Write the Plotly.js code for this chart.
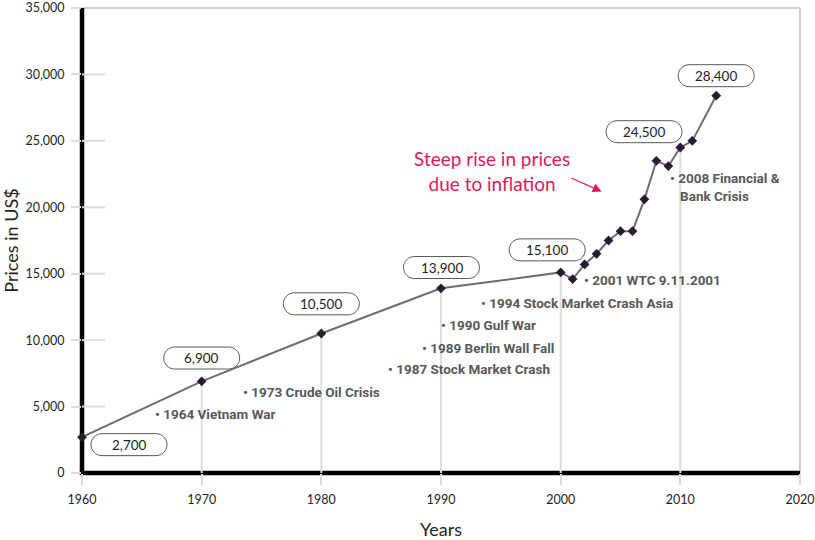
<!DOCTYPE html>
<html><head><meta charset="utf-8">
<script src="https://cdn.plot.ly/plotly-3.0.1.min.js"></script>
<style>body{margin:0;padding:0;background:#fff}#chart{width:815px;height:540px}</style>
</head><body><div id="chart"></div>
<script>
// ---- data ----
const years  = [1960, 1970, 1980, 1990, 2000, 2001, 2002, 2003, 2004, 2005, 2006, 2007, 2008, 2009, 2010, 2011, 2013];
const prices = [2700, 6900, 10500, 13900, 15100, 14600, 15700, 16500, 17500, 18200, 18200, 20600, 23500, 23100, 24500, 25000, 28400];
const labelYears = [1960, 1970, 1980, 1990, 2000, 2010, 2013];
const dropYears  = [1970, 1980, 1990, 2000, 2010];
const xTickVals = [1960, 1970, 1980, 1990, 2000, 2010, 2020];
const yTickVals = [0, 5000, 10000, 15000, 20000, 25000, 30000, 35000];
const eventLabels = ["1964 Vietnam War", "1973 Crude Oil Crisis", "1987 Stock Market Crash",
  "1989 Berlin Wall Fall", "1990 Gulf War", "1994 Stock Market Crash Asia",
  "2001 WTC 9.11.2001", "2008 Financial &<br>\u00a0\u00a0\u00a0Bank Crisis"];
const noteText = "Steep rise in prices<br>due to inflation";
const xTitle = "Years";
const yTitle = "Prices in US$";

// ---- styling / placement ----
const fmt = v => v.toLocaleString('en-US');
const FONT = 'Lato, "Open Sans", sans-serif';
const BOLD = 'Roboto, "Liberation Sans", sans-serif';
const boxOffsets = {1960:[47,-7.5],1970:[0,23.3],1980:[0,29.7],1990:[0.5,20.8],2000:[-13.5,22.5],2010:[-36.3,15.8],2013:[0,20]};
const eventPos = [[1965.93,4431],[1973.28,6084],[1985.44,7811],[1988.22,9411],[1989.83,11116],
  [1993.17,12791],[2001.82,14496],[2008.97,21497]];
const notePos = [1994.26, 22700];
const arrowHead = [2003.43, 21180];

function pill(cx, cy, hw, r){
  const k = 0.5523*r;
  return `M${cx-hw+r},${cy+r} L${cx+hw-r},${cy+r} C${cx+hw-r+k},${cy+r} ${cx+hw},${cy+k} ${cx+hw},${cy} `+
    `C${cx+hw},${cy-k} ${cx+hw-r+k},${cy-r} ${cx+hw-r},${cy-r} L${cx-hw+r},${cy-r} `+
    `C${cx-hw+r-k},${cy-r} ${cx-hw},${cy-k} ${cx-hw},${cy} C${cx-hw},${cy+k} ${cx-hw+r-k},${cy+r} ${cx-hw+r},${cy+r} Z`;
}
const priceOf = y => prices[years.indexOf(y)];

const shapes = [];
dropYears.forEach(y => shapes.push({type:'line', xref:'x', yref:'y', x0:y, x1:y, y0:0, y1:priceOf(y),
  line:{color:'#dcdcdc', width:2}, layer:'below'}));
yTickVals.filter(v => v>0 && v<35000).forEach(v => shapes.push({type:'line', xref:'x', yref:'y',
  xsizemode:'pixel', xanchor:1960, x0:0, x1:23, y0:v, y1:v, line:{color:'#dcdcdc', width:2}, layer:'below'}));
shapes.push({type:'line', xref:'paper', yref:'paper', x0:0, x1:1, y0:1, y1:1, line:{color:'#cfcfcf', width:2}, layer:'below'});
shapes.push({type:'line', xref:'paper', yref:'paper', x0:1, x1:1, y0:0, y1:1, line:{color:'#cfcfcf', width:2}, layer:'below'});
shapes.push({type:'line', xref:'paper', yref:'paper', x0:0, x1:0, y0:-0.004, y1:1, line:{color:'#000', width:4.5}, layer:'below'});
shapes.push({type:'line', xref:'paper', yref:'paper', x0:-0.003, x1:1, y0:0, y1:0, line:{color:'#000', width:4.5}, layer:'below'});
labelYears.forEach(y => {
  const o = boxOffsets[y];
  shapes.push({type:'path', xref:'x', yref:'y', xsizemode:'pixel', ysizemode:'pixel',
    xanchor:y, yanchor:priceOf(y), path:pill(o[0], o[1], 38, 11),
    fillcolor:'#fff', line:{color:'#58595b', width:1}, layer:'above'});
});

const annotations = [];
labelYears.forEach(y => {
  const o = boxOffsets[y];
  annotations.push({x:y, y:priceOf(y), xref:'x', yref:'y', xshift:o[0], yshift:o[1],
    text:fmt(priceOf(y)), showarrow:false, font:{family:FONT, size:13.5, color:'#231f20'}});
});
eventLabels.forEach((t,i) => annotations.push({x:eventPos[i][0], y:eventPos[i][1], xref:'x', yref:'y',
  xanchor:'left', yanchor:'middle', align:'left', text:'<b>\u2022 '+t.replace('<br>','</b><br><b>')+'</b>', showarrow:false,
  font:{family:BOLD, size:13.5, color:'#58585a', weight:'bold'}}));
annotations.push({x:notePos[0], y:notePos[1], xref:'x', yref:'y', text:noteText, showarrow:false,
  align:'center', font:{family:FONT, size:19, color:'#e2185b'}});
annotations.push({x:arrowHead[0], y:arrowHead[1], xref:'x', yref:'y', text:' ', showarrow:true,
  ax:-33.4, ay:-15, arrowhead:2, arrowsize:1.5, arrowwidth:1.2, arrowcolor:'#e2185b', standoff:0, startstandoff:0});

const traces = [{
  x: years, y: prices, type:'scatter', mode:'lines+markers', cliponaxis:false,
  line:{color:'#6d6e71', width:2},
  marker:{symbol:'diamond', size:7.5, color:'#2b1a31'},
  hoverinfo:'x+y', showlegend:false
}];

const layout = {
  width:815, height:540,
  margin:{l:82, r:15, t:8, b:67},
  paper_bgcolor:'#fff', plot_bgcolor:'#fff',
  font:{family:FONT, color:'#231f20'},
  xaxis:{range:[1960,2020], tickvals:xTickVals, ticktext:xTickVals.map(String),
    ticks:'outside', ticklen:11, tickwidth:2, tickcolor:'#dcdcdc',
    showline:false, showgrid:false, zeroline:false, fixedrange:true,
    tickfont:{family:FONT, size:12.5, color:'#231f20'}, ticklabelstandoff:4,
    title:{text:xTitle, font:{family:FONT, size:18, color:'#231f20'}, standoff:25}},
  yaxis:{range:[0,35000], tickvals:yTickVals, ticktext:yTickVals.map(fmt),
    ticks:'outside', ticklen:10, tickwidth:2, tickcolor:'#dcdcdc', ticklabeloverflow:'allow',
    showline:false, showgrid:false, zeroline:false, fixedrange:true,
    tickfont:{family:FONT, size:12.5, color:'#231f20'}, ticklabelstandoff:4,
    title:{text:yTitle, font:{family:FONT, size:18, color:'#231f20'}, standoff:14}},
  shapes, annotations
};
Plotly.newPlot('chart', traces, layout, {displayModeBar:false, staticPlot:true});
</script></body></html>
